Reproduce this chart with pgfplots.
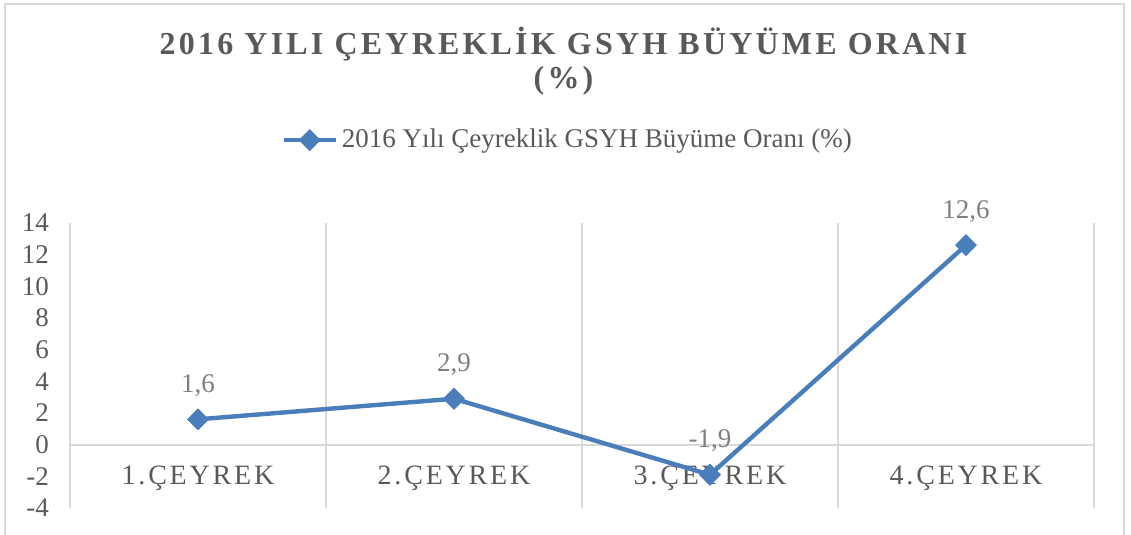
\documentclass[border=0pt]{standalone}
\usepackage{fontspec}
\setmainfont{Liberation Serif}
\newfontfamily\titlefont[LetterSpace=10]{Liberation Serif}
\newfontfamily\catfont[LetterSpace=10]{Liberation Serif}
\usepackage{pgfplots}
\pgfplotsset{compat=1.18}
\definecolor{txt}{HTML}{595959}
\definecolor{lbl}{HTML}{7F7F7F}
\definecolor{gridc}{HTML}{D9D9D9}
\definecolor{serie}{HTML}{4A7EBB}

\begin{document}
\begin{tikzpicture}
\useasboundingbox (0,0) rectangle (565.5pt,267.5pt);
% outer chart frame
\draw[gridc, line width=1pt] (2.5pt,0pt) -- (2.5pt,265.5pt) -- (562pt,265.5pt) -- (562pt,0pt);
\begin{axis}[
  at={(35pt,13.5pt)}, anchor=south west,
  scale only axis, width=512pt, height=142.5pt,
  xmin=0.5, xmax=4.5, ymin=-4, ymax=14,
  clip=false,
  xtick={1,2,3,4},
  xticklabels={1.ÇEYREK,2.ÇEYREK,3.ÇEYREK,4.ÇEYREK},
  ytick={-4,-2,...,14},
  minor xtick={0.5,1.5,2.5,3.5,4.5},
  xminorgrids=true,
  minor grid style={gridc, line width=1pt},
  major grid style={gridc, line width=1pt},
  extra y ticks={0}, extra y tick labels={}, extra y tick style={grid=major},
  axis line style={draw=none},
  tick style={draw=none},
  /pgf/number format/assume math mode=true,
  yticklabel style={font=\fontsize{13.5}{15}\selectfont, text=txt, xshift=-7pt},
  xticklabel style={font=\catfont\fontsize{14}{16}\selectfont, text=txt, anchor=center, yshift=15pt},
  title={2016 YILI ÇEYREKLİK GSYH BÜYÜME ORANI\\(\%)},
  title style={at={(0.482,1.525)}, anchor=center, align=center, text=txt,
    font=\titlefont\bfseries\fontsize{16}{17}\selectfont},
  legend style={at={(0.487,1.291)}, anchor=center, draw=none, fill=none,
    font=\fontsize{13.5}{15}\selectfont, text=txt},
  legend image code/.code={
    \draw[mark repeat=2, mark phase=2, #1] plot coordinates {(0pt,0pt) (13pt,0pt) (26pt,0pt)};
  },
  point meta=explicit symbolic,
  nodes near coords,
  every node near coord/.append style={font=\fontsize{13.5}{15}\selectfont, text=lbl, anchor=south, yshift=7pt},
]
\addplot[serie, line width=2.2pt, mark=square*, mark size=2.8pt,
  mark options={rotate=45, solid, fill=serie}]
  coordinates {(1,1.6) [1,6] (2,2.9) [2,9] (3,-1.9) [-1,9] (4,12.6) [12,6]};
\addlegendentry{2016 Yılı Çeyreklik GSYH Büyüme Oranı (\%)}
\end{axis}
\end{tikzpicture}
\end{document}
